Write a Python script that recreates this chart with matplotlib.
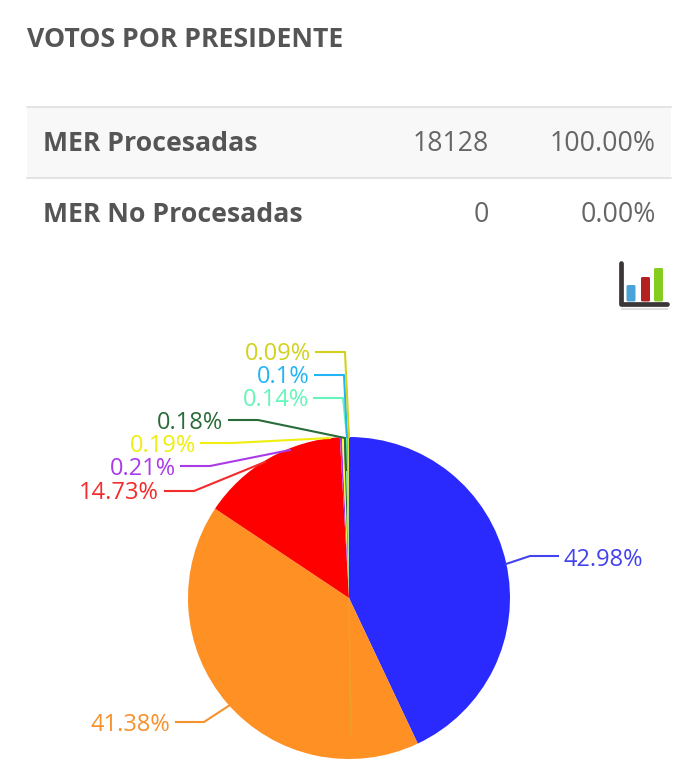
import matplotlib
matplotlib.use("Agg")
import matplotlib.pyplot as plt
from matplotlib.patches import Rectangle, FancyBboxPatch
from matplotlib.lines import Line2D

title = "VOTOS POR PRESIDENTE"
row_names = ["MER Procesadas", "MER No Procesadas"]
row_counts = ["18128", "0"]
row_pcts = ["100.00%", "0.00%"]

values = [42.98, 41.38, 14.73, 0.21, 0.19, 0.18, 0.14, 0.1, 0.09]
labels = ["42.98%", "41.38%", "14.73%", "0.21%", "0.19%", "0.18%", "0.14%", "0.1%", "0.09%"]
slice_colors = ["#2a2aff", "#ff9124", "#ff0000", "#aa33ee", "#ffff22",
                "#1f6b30", "#66ffbb", "#22bbff", "#dddd22"]
label_colors = ["#4343ee", "#f7912c", "#f52a2a", "#aa3be8", "#eeee10",
                "#2a6b3a", "#66f5b8", "#22b4f5", "#d2d21e"]
icon_tops = [285, 277, 268]
icon_colors = ["#4aa3d8", "#b52020", "#86cc20"]

W, H = 700, 776
fig = plt.figure(figsize=(W / 100, H / 100), dpi=100, facecolor="white")
plt.rcParams["font.family"] = ["Open Sans", "DejaVu Sans"]

# page-pixel overlay
pg = fig.add_axes([0, 0, 1, 1])
pg.set_xlim(0, W)
pg.set_ylim(H, 0)
pg.axis("off")

pg.text(27, 40, title, fontsize=19.2, fontweight="bold", color="#555555", va="center", ha="left")

pg.add_patch(Rectangle((27, 107), 644, 71, facecolor="#f8f8f8", edgecolor="none"))
for yy in (107, 178):
    pg.plot([27, 671], [yy, yy], color="#dddddd", lw=1.1)
row_y = [144, 215]
for name, cnt, pct, y in zip(row_names, row_counts, row_pcts, row_y):
    pg.text(43, y, name, fontsize=19.2, fontweight="bold", color="#555555", va="center", ha="left")
    pg.text(489, y, cnt, fontsize=19.2, color="#666666", va="center", ha="right")
    pg.text(656, y, pct, fontsize=19.2, color="#666666", va="center", ha="right")

# chart icon
ix = [631, 645.5, 658.5]
for x, top, c in zip(ix, icon_tops, icon_colors):
    pg.add_patch(FancyBboxPatch((x - 3, top + 1.5), 6, 298.5 - top, boxstyle="round,pad=1.5",
                                facecolor=c, edgecolor="none"))
pg.plot([620.5, 620.5, 667], [263, 304, 304], color="#3a3536", lw=3.4, solid_capstyle="round",
        solid_joinstyle="round")
pg.plot([622, 667], [309, 309], color="#cccccc", lw=1.5, alpha=0.6)

# pie, placed in pixel box
cx, cy, r = 349, 598, 161
ax = fig.add_axes([(cx - r) / W, 1 - (cy + r) / H, 2 * r / W, 2 * r / H])
ax.pie(values, colors=slice_colors, startangle=90, counterclock=False, radius=1,
       wedgeprops=dict(linewidth=0))
ax.set_xlim(-1, 1)
ax.set_ylim(-1, 1)
ax.set_aspect("equal")
ax.axis("off")
ax.plot([0, 0.012], [0, -0.85], color="#d8b83a", lw=1, alpha=0.4)

# connectors and labels (layout in page pixels)
conn_pts = [
    [(558, 556), (530, 556), (506, 564)],
    [(176, 722), (204, 722), (230, 705)],
    [(165, 491), (194, 491), (265, 462)],
    [(181, 466), (210, 466), (290, 450)],
    [(201, 443), (232, 443), (330, 438)],
    [(229, 420), (258, 420), (345, 438), (346, 470)],
    [(314, 398), (343, 398), (347, 437)],
    [(315, 375), (344, 375), (347, 437)],
    [(316, 352), (345, 352), (349, 437)],
]
label_pos = [(563, 560, "left"), (170, 725, "right"), (159, 493, "right"),
             (176, 469, "right"), (196, 446, "right"), (223, 423, "right"),
             (309, 400, "right"), (310, 377, "right"), (311, 354, "right")]
for pts, (lx, ly, ha), lab, lc in zip(conn_pts, label_pos, labels, label_colors):
    pg.add_line(Line2D([p[0] for p in pts], [p[1] for p in pts], color=lc, lw=1.5, zorder=5))
    pg.text(lx, ly, lab, color=lc, fontsize=17, ha=ha, va="center", zorder=6)

pg.set_zorder(3)
pg.patch.set_alpha(0)
fig.savefig("out.png", dpi=100, facecolor="white")
